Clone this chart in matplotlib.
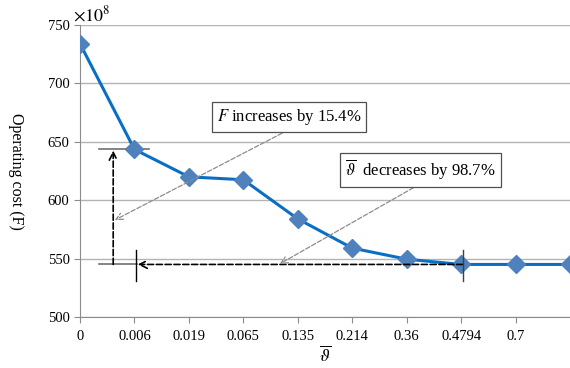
import numpy as np
import matplotlib.pyplot as plt

plt.rcParams['font.family'] = ['Liberation Serif', 'DejaVu Serif']
plt.rcParams['mathtext.fontset'] = 'stix'

# operating cost (x1e8) for each upper bound of theta
theta_labels = ['0', '0.006', '0.019', '0.065', '0.135', '0.214', '0.36', '0.4794', '0.7']
cost = [734, 643.5, 620, 617.5, 584, 559, 549.5, 545, 545, 545]

x = np.arange(len(cost))

fig = plt.figure(figsize=(5.7, 3.68), dpi=100)
ax = fig.add_axes([80 / 570, 51 / 368, 490 / 570, 292 / 368])

ax.set_ylim(500, 750)
ax.set_xlim(0, len(cost) - 1)
ax.set_yticks([500, 550, 600, 650, 700, 750])
ax.grid(axis='y', color='#b4b4b4', linewidth=1.0)
ax.set_axisbelow(True)
for s in ['top', 'right']:
    ax.spines[s].set_visible(False)
for s in ['left', 'bottom']:
    ax.spines[s].set_color('#8c8c8c')
ax.set_xticks(np.arange(len(theta_labels)))
ax.set_xticklabels(theta_labels)
ax.tick_params(axis='both', colors='#8c8c8c', labelcolor='black', labelsize=10.5, length=4)
ax.tick_params(axis='x', pad=5)

ax.plot(x, cost, color='#0a6fc2', linewidth=2.2, marker='D', markersize=9,
        markerfacecolor='#4f81bd', markeredgecolor='#4f81bd', clip_on=True, zorder=3)

lo, hi = cost[-1], cost[1]

# range of F
ax.plot([0.35, 1.27], [hi, hi], color='#707070', linewidth=1.2, zorder=2)
ax.plot([0.35, 1.05], [lo, lo], color='#707070', linewidth=1.2, zorder=2)
ax.annotate('', xy=(0.61, hi - 1), xytext=(0.61, lo),
            arrowprops=dict(arrowstyle='->', color='black', linestyle='--', lw=1.2,
                            shrinkA=0, shrinkB=0, mutation_scale=14))

# range of theta
ax.plot([1.02, 1.02], [531, 557], color='black', linewidth=1.0, zorder=4)
ax.plot([7.03, 7.03], [531, 557], color='#404040', linewidth=1.0, zorder=4)
ax.annotate('', xy=(1.06, lo), xytext=(7.03, lo),
            arrowprops=dict(arrowstyle='->', color='black', linestyle='--', lw=1.2,
                            shrinkA=0, shrinkB=0, mutation_scale=14))

# callouts
box = dict(boxstyle='square,pad=0.3', facecolor='white', edgecolor='#505050', linewidth=0.9)
ax.text(3.84, 671.5, r'$F$ increases by 15.4%', ha='center', va='center', fontsize=12, bbox=box, zorder=5)
ax.text(6.25, 625.5, r'$\overline{\vartheta}$  decreases by 98.7%', ha='center', va='center', fontsize=12, bbox=box, zorder=5)
ax.annotate('', xy=(0.64, 583), xytext=(3.82, 660),
            arrowprops=dict(arrowstyle='->', color='#8c8c8c', linestyle='--', lw=0.9,
                            shrinkA=0, shrinkB=0, mutation_scale=12))
ax.annotate('', xy=(3.67, lo + 0.5), xytext=(6.23, 613.5),
            arrowprops=dict(arrowstyle='->', color='#8c8c8c', linestyle='--', lw=0.9,
                            shrinkA=0, shrinkB=0, mutation_scale=12))

ax.text(-0.015, 1.0, r'$\times10^{8}$', transform=ax.transAxes, ha='left', va='bottom', fontsize=13)
ax.set_ylabel('Operating cost (F)', fontsize=11.5, rotation=-90, va='center')
ax.yaxis.set_label_coords(-0.13, 0.5)
ax.set_xlabel(r'$\overline{\vartheta}$', fontsize=13, labelpad=2)

fig.savefig('out.png', dpi=100)
